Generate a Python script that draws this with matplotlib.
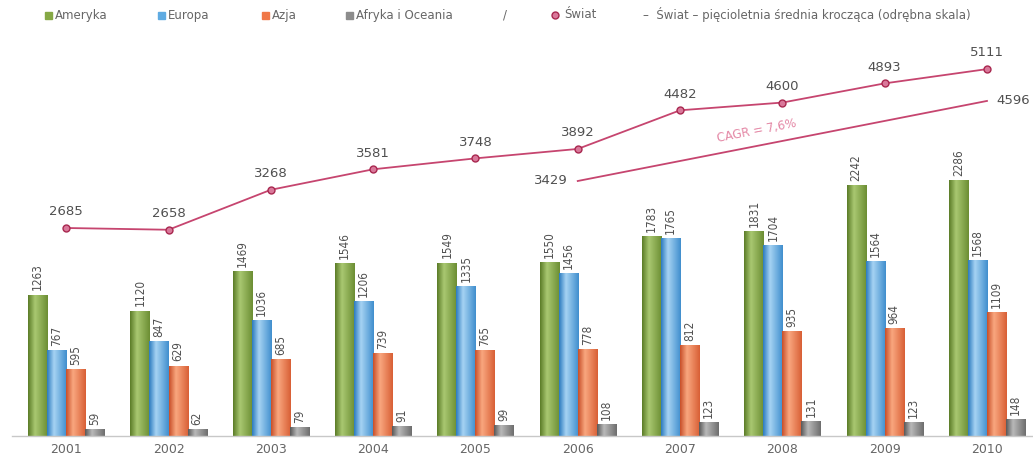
import matplotlib
matplotlib.use("Agg")
import matplotlib.pyplot as plt
from matplotlib.lines import Line2D
from matplotlib.patches import Rectangle
from matplotlib.colors import to_rgb
import numpy as np

years = ["2001", "2002", "2003", "2004", "2005", "2006", "2007", "2008", "2009", "2010"]
ameryka = [1263, 1120, 1469, 1546, 1549, 1550, 1783, 1831, 2242, 2286]
europa = [767, 847, 1036, 1206, 1335, 1456, 1765, 1704, 1564, 1568]
azja = [595, 629, 685, 739, 765, 778, 812, 935, 964, 1109]
afryka = [59, 62, 79, 91, 99, 108, 123, 131, 123, 148]
swiat = [2685, 2658, 3268, 3581, 3748, 3892, 4482, 4600, 4893, 5111]
ma_years = ["2006", "2010"]
ma_values = [3429, 4596]
cagr_label = "CAGR = 7,6%"

series_names = ["Ameryka", "Europa", "Azja", "Afryka i Oceania"]
colors = ["#85a845", "#5fabe2", "#f07848", "#8c8c8c"]
darks = ["#5c7d28", "#2d7cc0", "#c9502a", "#5a5a5a"]
lights = ["#a9c871", "#a6d3f3", "#f9a77f", "#b9b9b9"]
line_col = "#c6456f"
text_col = "#505050"

plt.rcParams['font.family'] = ['DejaVu Sans']

fig = plt.figure(figsize=(10.33, 4.62), dpi=100)
ax = fig.add_axes([12 / 1033, 26 / 462, 1 - 12 / 1033, 406 / 462])
x = np.arange(len(years))
w = 0.186

def gradient_row(dark, mid, light, n=40):
    d, m, l = (np.array(to_rgb(c)) for c in (dark, mid, light))
    t = np.linspace(0, 1, n)
    row = np.empty((1, n, 3))
    for k, tk in enumerate(t):
        if tk < 0.35:
            f = tk / 0.35
            row[0, k] = d * (1 - f) + l * f
        else:
            f = (tk - 0.35) / 0.65
            row[0, k] = l * (1 - f) + d * f * 0.6 + m * f * 0.4
    return row

for i, vals in enumerate([ameryka, europa, azja, afryka]):
    xs = x + (i - 1.5) * w
    bars = ax.bar(xs, vals, width=w, color=colors[i], edgecolor="none", zorder=2)
    img = gradient_row(darks[i], colors[i], lights[i])
    for b in bars:
        x0, y0 = b.get_x(), b.get_y()
        im = ax.imshow(img, extent=(x0, x0 + b.get_width(), y0, y0 + b.get_height()),
                       aspect="auto", zorder=2.1, interpolation="bilinear")
        im.set_clip_path(b)
    for xi, v in zip(xs, vals):
        ax.annotate(f"{v}", (xi, v), xytext=(0, 3), textcoords="offset points",
                    rotation=90, ha="center", va="bottom", fontsize=8.5,
                    color=text_col, fontstretch="condensed")

ax.set_xlim(-0.53, 9.45)
ax.set_ylim(0, 3625)
ax.set_xticks(x)
ax.set_xticklabels(years, fontsize=9, color="#666666")
ax.tick_params(axis="x", length=0, pad=5)
ax.set_yticks([])
for s in ["top", "right", "left"]:
    ax.spines[s].set_visible(False)
ax.spines["bottom"].set_color("#c8c8c8")
ax.spines["bottom"].set_linewidth(1.0)
ax.spines["bottom"].set_zorder(3)

# Total line on its own scale
ax2 = ax.twinx()
ax2.set_ylim(-491, 5708)
ax2.plot(x, swiat, color=line_col, linewidth=1.3, marker="o", markersize=5,
         markerfacecolor="#d9789a", markeredgecolor="#a8284f", markeredgewidth=1, zorder=3)
for xi, v in zip(x, swiat):
    ax2.annotate(f"{v}", (xi, v), xytext=(0, 7), textcoords="offset points",
                 ha="center", va="bottom", fontsize=9.5, color=text_col)
ax2.axis("off")

# Five-year moving average, separate scale
ax3 = ax.twinx()
ax3.set_ylim(-288, 5630)
ma_x = [years.index(y) for y in ma_years]
ax3.plot(ma_x, ma_values, color=line_col, linewidth=1.3)
ax3.annotate(f"{ma_values[0]}", (ma_x[0], ma_values[0]), xytext=(-7, 0),
             textcoords="offset points", ha="right", va="center",
             fontsize=9.5, color=text_col)
ax3.annotate(f"{ma_values[1]}", (ma_x[1], ma_values[1]), xytext=(7, 0),
             textcoords="offset points", ha="left", va="center",
             fontsize=9.5, color=text_col)
ax3.text(6.75, 4155, cagr_label, rotation=11, ha="center", va="center",
         fontsize=8.5, color="#e487a5")
ax3.axis("off")
for a in (ax, ax2, ax3):
    a.set_xlim(-0.53, 9.45)

# Legend row
ly = 1 - 15 / 462
fs = 8.5
items = [(45, colors[0], "Ameryka"), (158, colors[1], "Europa"),
         (262, colors[2], "Azja"), (346, colors[3], "Afryka i Oceania")]
for px, c, lab in items:
    fig.patches.append(Rectangle((px / 1033, ly - 3.5 / 462), 7 / 1033, 7 / 462,
                                 transform=fig.transFigure, color=c, figure=fig))
    fig.text((px + 10) / 1033, ly, lab, fontsize=fs, color="#666666", va="center")
fig.text(503 / 1033, ly, "/", fontsize=fs, color="#666666", va="center")
fig.lines.append(Line2D([555 / 1033], [ly], marker="o", markersize=5,
                        markerfacecolor="#d9789a", markeredgecolor="#a8284f",
                        transform=fig.transFigure, figure=fig))
fig.text(564 / 1033, ly, "Świat", fontsize=fs, color="#666666", va="center")
fig.text(643 / 1033, ly, "–  Świat – pięcioletnia średnia krocząca (odrębna skala)",
         fontsize=fs, color="#666666", va="center")

fig.savefig("out.png", dpi=100, facecolor="white")
